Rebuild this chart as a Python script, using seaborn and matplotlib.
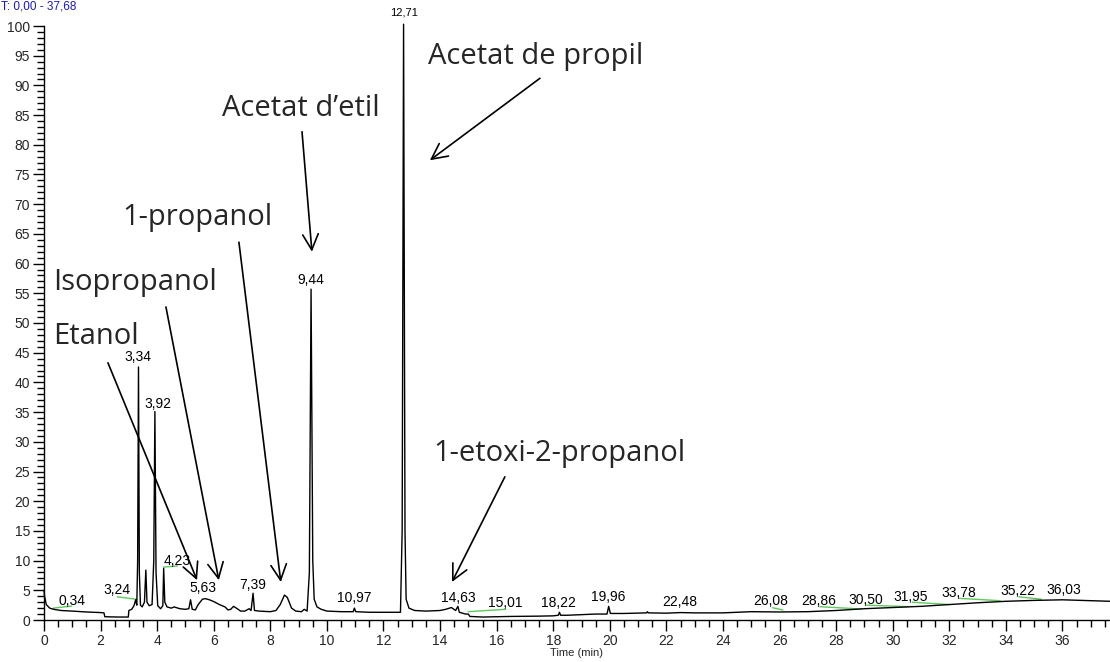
import matplotlib
matplotlib.use("Agg")
import matplotlib.pyplot as plt
import seaborn as sns
import pandas as pd
import numpy as np

# ---- data ----
time_min = [0.00, 0.02, 0.08, 0.20, 0.34, 0.60, 1.00, 1.50, 2.00, 2.12, 2.15, 2.60, 2.98,
            3.00, 3.10, 3.18, 3.24, 3.28, 3.31, 3.34, 3.37, 3.41, 3.47, 3.55, 3.60, 3.64,
            3.72, 3.82, 3.88, 3.92, 3.96, 4.02, 4.12, 4.20, 4.23, 4.27, 4.35, 4.50, 4.60,
            4.80, 5.00, 5.12, 5.18, 5.24, 5.35, 5.45, 5.60, 5.70, 5.85, 6.00, 6.20, 6.40,
            6.50, 6.60, 6.70, 6.80, 6.95, 7.10, 7.25, 7.32, 7.39, 7.44, 7.60, 8.00, 8.20,
            8.35, 8.50, 8.60, 8.75, 8.90, 9.10, 9.20, 9.30, 9.38, 9.44, 9.50, 9.55, 9.65,
            9.80, 10.00, 10.50, 10.93, 10.97, 11.02, 11.50, 12.00, 12.60, 12.66, 12.71,
            12.76, 12.80, 12.90, 13.10, 13.50, 14.00, 14.20, 14.40, 14.55, 14.63, 14.68,
            14.90, 15.00, 15.05, 15.50, 16.50, 17.50, 18.00, 18.18, 18.22, 18.26, 18.50,
            19.00, 19.50, 19.90, 19.96, 20.02, 20.50, 21.30, 21.33, 21.36, 22.00, 22.50,
            23.00, 24.00, 25.00, 26.00, 27.00, 28.00, 29.00, 30.00, 31.00, 32.00, 33.00,
            34.00, 35.00, 36.00, 37.00, 37.68]
intensity = [5.0, 4.0, 2.6, 2.0, 1.8, 1.6, 1.5, 1.35, 1.25, 1.2, 0.55, 0.5, 0.5,
             1.6, 1.8, 2.4, 3.4, 2.5, 10.0, 42.6, 8.0, 2.5, 2.2, 3.0, 8.4, 3.0,
             2.4, 2.6, 10.0, 35.1, 8.0, 2.4, 1.9, 2.4, 8.7, 3.0, 2.2, 2.0, 2.2,
             1.9, 1.8, 1.9, 3.4, 1.8, 1.7, 2.6, 3.5, 3.6, 3.4, 3.1, 2.6, 2.2,
             1.7, 1.8, 2.3, 2.0, 1.5, 1.5, 1.9, 1.6, 4.5, 1.6, 1.5, 1.4, 1.6,
             2.6, 4.2, 3.8, 2.0, 1.5, 1.4, 1.8, 1.5, 8.0, 55.7, 10.0, 3.5, 2.2,
             1.8, 1.5, 1.4, 1.4, 2.0, 1.4, 1.3, 1.3, 1.3, 15.0, 100.3,
             15.0, 3.5, 2.0, 1.6, 1.5, 1.6, 1.8, 2.1, 1.6, 2.3, 1.3,
             1.0, 1.0, 0.6, 0.5, 0.6, 0.65, 0.7, 0.8, 1.3, 0.8, 0.8,
             0.9, 1.0, 1.0, 2.3, 1.1, 1.1, 1.2, 1.4, 1.2, 1.15, 1.25,
             1.2, 1.2, 1.4, 1.35, 1.4, 1.6, 1.9, 2.1, 2.3, 2.6, 2.9,
             3.15, 3.3, 3.4, 3.25, 3.15]

# peak labels: text, x, y (data units)
peak_labels = ["0,34", "3,24", "3,34", "3,92", "4,23", "5,63", "7,39", "9,44", "10,97",
               "14,63", "15,01", "18,22", "19,96", "22,48", "26,08", "28,86", "30,50",
               "31,95", "33,78", "35,22", "36,03"]
peak_label_x = [1.00, 2.58, 3.33, 4.03, 4.72, 5.63, 7.39, 9.44, 10.97,
                14.63, 16.30, 18.20, 19.96, 22.47, 25.69, 27.40, 29.05,
                30.64, 32.33, 34.42, 36.04]
peak_label_y = [3.2, 5.05, 44.3, 36.4, 10.0, 5.4, 5.9, 57.2, 3.7,
                3.65, 2.9, 2.8, 3.8, 3.05, 3.2, 3.2, 3.35,
                3.9, 4.6, 4.8, 5.0]

# integration baseline marks (green)
base_t1 = [0.33, 2.59, 4.22, 14.99, 25.75, 27.42, 29.07, 30.69, 32.33, 34.46]
base_v1 = [2.0, 3.9, 8.9, 1.4, 2.07, 2.24, 2.5, 3.0, 3.65, 3.9]
base_t2 = [0.98, 3.25, 4.72, 16.32, 26.12, 28.89, 30.54, 32.01, 33.80, 35.25]
base_v2 = [2.35, 3.5, 9.1, 1.8, 1.68, 1.85, 2.24, 2.6, 3.25, 3.5]

# compound annotations (text left edge / baseline, arrow start -> arrow tip)
compounds = ["Acetat de propil", "Acetat d\u2019etil", "1-propanol", "Isopropanol",
             "Etanol", "1-etoxi-2-propanol"]
comp_text_x = [13.57, 6.29, 2.76, 0.32, 0.32, 13.75]
comp_text_y = [93.6, 84.8, 66.5, 55.6, 46.5, 26.8]
arrow_from_x = [17.53, 9.12, 6.89, 4.31, 2.26, 16.29]
arrow_from_y = [91.2, 82.2, 63.6, 52.7, 43.3, 24.1]
arrow_to_x = [13.64, 9.47, 8.37, 6.18, 5.41, 14.42]
arrow_to_y = [77.4, 62.0, 6.4, 6.7, 6.7, 6.4]

x_range_text = "T: 0,00 - 37,68"
x_label = "Time (min)"
x_ticks = list(range(0, 37, 2))
y_ticks = list(range(0, 101, 5))

# ---- drawing ----
sns.set_style("ticks")
plt.rcParams["font.family"] = ["Liberation Sans", "DejaVu Sans"]

fig = plt.figure(figsize=(11.10, 6.62), dpi=100)
ax = fig.add_axes([44 / 1110, 42 / 662, 1 - 44 / 1110, (620 - 26) / 662])

df = pd.DataFrame({"time": time_min, "rel": intensity})
sns.lineplot(data=df, x="time", y="rel", ax=ax, color="black", linewidth=1.0,
             estimator=None, sort=False)
for ln in ax.lines:
    ln.set_clip_on(False)

for t1, v1, t2, v2 in zip(base_t1, base_v1, base_t2, base_v2):
    ax.plot([t1, t2], [v1, v2], color="#5fc85f", lw=1.0, zorder=1)

for lab, x, y in zip(peak_labels, peak_label_x, peak_label_y):
    ax.text(x, y, lab, ha="center", va="center", fontsize=10, color="black")
ax.text(12.71, 102.2, "12,71", ha="center", va="center", fontsize=8, color="black",
        clip_on=False)

for name, tx, ty in zip(compounds, comp_text_x, comp_text_y):
    ax.text(tx, ty, name, ha="left", va="baseline", fontsize=21,
            family=["Open Sans", "DejaVu Sans"])

for fx, fy, tx, ty in zip(arrow_from_x, arrow_from_y, arrow_to_x, arrow_to_y):
    ax.annotate("", xy=(tx, ty), xytext=(fx, fy),
                arrowprops=dict(arrowstyle="->", color="black", lw=1.2,
                                mutation_scale=28, shrinkA=0, shrinkB=0))

ax.set_xlim(0, 37.68)
ax.set_ylim(0, 100)
ax.set_xticks(x_ticks)
ax.set_xticks(np.arange(0, 37.68, 0.5), minor=True)
ax.set_yticks(y_ticks)
ax.set_yticks(np.arange(0, 101, 1), minor=True)
ax.tick_params(axis="both", which="major", length=8, width=1, labelsize=10, pad=2,
               color="black")
ax.tick_params(axis="both", which="minor", length=5, width=1, color="black")
ax.set_xlabel(x_label, fontsize=8, labelpad=0)
ax.set_ylabel("")
sns.despine(ax=ax, top=True, right=True)
for sp in ("left", "bottom"):
    ax.spines[sp].set_color("black")
    ax.spines[sp].set_linewidth(1.0)

fig.text(0.001, 0.999, x_range_text, ha="left", va="top", fontsize=8.5, color="#1a1ab8")

fig.savefig("out.png", dpi=100)
